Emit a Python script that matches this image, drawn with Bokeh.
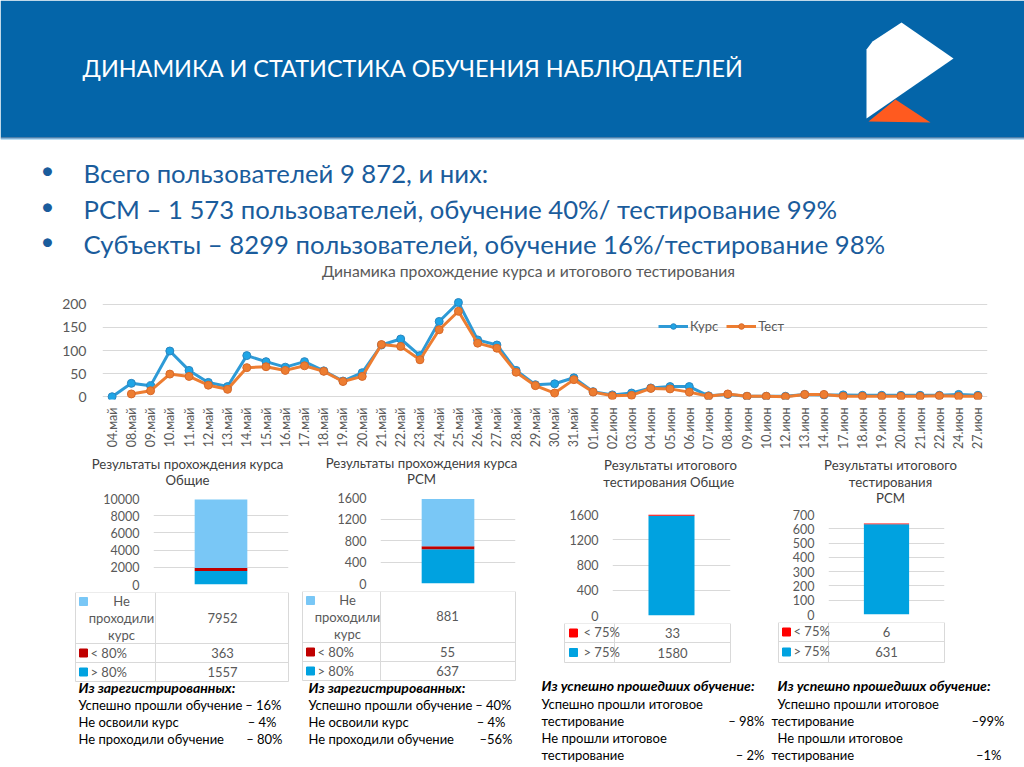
import math
from bokeh.plotting import figure
from bokeh.layouts import column, row
from bokeh.models import Range1d, FixedTicker, Legend, LegendItem, FactorRange, ColumnDataSource
from bokeh.core.properties import value
from bokeh.embed import file_html
from bokeh.resources import INLINE

FONT = "Lato"
GRAY = "#595959"
GRID = "#D9D9D9"
HEADER_BLUE = "#0465A9"
TEXT_BLUE = "#1A5C9C"
KURS_COLOR = "#2E9AD6"
TEST_COLOR = "#ED7D31"

# ---------------- data ----------------
dates = ["04.май", "08.май", "09.май", "10.май", "11.май", "12.май", "13.май", "14.май",
         "15.май", "16.май", "17.май", "18.май", "19.май", "20.май", "21.май", "22.май",
         "23.май", "24.май", "25.май", "26.май", "27.май", "28.май", "29.май", "30.май",
         "31.май", "01.июн", "02.июн", "03.июн", "04.июн", "05.июн", "06.июн", "07.июн",
         "08.июн", "09.июн", "10.июн", "12.июн", "13.июн", "14.июн", "17.июн", "18.июн",
         "19.июн", "20.июн", "21.июн", "22.июн", "24.июн", "27.июн"]
kurs = [0, 29, 24, 99, 57, 31, 22, 89, 76, 64, 76, 56, 34, 52, 112, 125, 89, 163, 204, 123,
        112, 57, 26, 28, 41, 11, 4, 8, 19, 22, 22, 2, 5, 1, 1, 1, 5, 4, 4, 3, 3, 3, 3, 3, 5, 3]
test = [float("nan"), 6, 13, 49, 44, 25, 16, 63, 65, 57, 67, 55, 33, 44, 113, 109, 80, 145, 185,
        116, 105, 53, 24, 8, 37, 10, 2, 3, 18, 17, 10, 1, 6, 1, 1, 0, 5, 5, 1, 1, 1, 1, 1, 2, 1, 1]
line_ticks = [0, 50, 100, 150, 200]

course_keys = ["gt80", "lt80", "none"]
course_labels = ["> 80%", "< 80%", "Не проходили курс"]
course_colors = ["#00A2E0", "#C00000", "#79C7F6"]
course_all = [1557, 363, 7952]
course_rsm = [637, 55, 881]
course_all_ticks = [0, 2000, 4000, 6000, 8000, 10000]
course_rsm_ticks = [0, 400, 800, 1200, 1600]

test_keys = ["gt75", "lt75"]
test_labels = ["> 75%", "< 75%"]
test_colors = ["#00A2E0", "#FF0000"]
test_all = [1580, 33]
test_rsm = [631, 6]
test_all_ticks = [0, 400, 800, 1200, 1600]
test_rsm_ticks = [0, 100, 200, 300, 400, 500, 600, 700]

header_title = "ДИНАМИКА И СТАТИСТИКА ОБУЧЕНИЯ НАБЛЮДАТЕЛЕЙ"
bullets = ["Всего пользователей 9 872, и них:",
           "РСМ – 1 573 пользователей, обучение 40%/ тестирование 99%",
           "Субъекты – 8299 пользователей, обучение 16%/тестирование 98%"]
line_title = "Динамика прохождение курса и итогового тестирования"

TS = "13.2px"   # block title size
TB = "13px"     # table text size
BT = "13px"     # bottom text size
BB = "14px"     # bottom bold heading size


# ---------------- helpers ----------------
def canvas(x0, y0, w, h):
    p = figure(width=w, height=h, x_range=Range1d(x0, x0 + w), y_range=Range1d(y0 + h, y0),
               x_axis_type=None, y_axis_type=None, output_backend="svg", toolbar_location=None,
               min_border=0, frame_align=False)
    p.grid.visible = False
    p.outline_line_color = None
    return p


def T(p, x, y, s, size="12px", color=GRAY, align="left", style="normal"):
    p.text(x=[x], y=[y], text=[s], text_font=value(FONT), text_font_size=size,
           text_color=color, text_align=align, text_baseline="middle", text_font_style=style)


def bar_fig(x0, y0, w, h, fl, fr, ft, fb, ymax, ticks, keys, vals, colors):
    p = figure(width=w, height=h, x_range=Range1d(0, 1), y_range=Range1d(0, ymax),
               x_axis_type=None, output_backend="svg", toolbar_location=None,
               min_border_left=fl - x0, min_border_right=x0 + w - fr,
               min_border_top=ft - y0, min_border_bottom=y0 + h - fb, frame_align=False)
    src = ColumnDataSource({k: [v] for k, v in zip(keys, vals)} | {"x": [0.5]})
    p.vbar_stack(keys, x="x", width=0.39, color=colors, source=src, line_width=0)
    p.yaxis.ticker = FixedTicker(ticks=ticks)
    p.ygrid.ticker = FixedTicker(ticks=ticks)
    p.ygrid.grid_line_color = GRID
    p.xgrid.visible = False
    p.yaxis.axis_line_color = None
    p.yaxis.major_tick_line_color = None
    p.yaxis.minor_tick_line_color = None
    p.yaxis.major_label_text_font = FONT
    p.yaxis.major_label_text_font_size = "12.5px"
    p.yaxis.major_label_text_color = GRAY
    p.yaxis.major_label_standoff = 8
    p.outline_line_color = None
    return p


def table_lines(p, xl, xm, xr, ys):
    for y in ys:
        p.line([xl, xr], [y, y], line_color=GRID, line_width=1)
    for x in (xl, xm, xr):
        p.line([x, x], [ys[0], ys[-1]], line_color=GRID, line_width=1)


# ---------------- top canvas ----------------
top = canvas(0, 0, 1024, 282)
top.quad(left=[0], right=[1024], top=[0], bottom=[137], fill_color=HEADER_BLUE, line_width=0)
top.line([0, 1024], [137.5, 137.5], line_color="#1B4F82", line_width=1)
top.line([0, 1024], [138.5, 138.5], line_color="#7DBBE6", line_width=1)
T(top, 82, 67, header_title, "23.4px", "white")
top.patch([866, 866, 872, 901, 953], [118, 49, 41, 22, 58], fill_color="white", line_width=0)
top.patch([868, 895, 930], [121, 99, 122], fill_color="#FF5A1F", line_width=0)
for i, b in enumerate(bullets):
    y = [172, 208, 243][i]
    T(top, 47, y - 3, "•", "24px", TEXT_BLUE, "center")
    T(top, 83, y, b, "25.7px", TEXT_BLUE)
T(top, 528, 270, line_title, "15.7px", GRAY, "center")

# ---------------- line chart ----------------
lp = figure(width=1024, height=174, x_range=FactorRange(*dates), y_range=Range1d(-6, 230),
            min_border_left=102, min_border_right=37, min_border_top=8, min_border_bottom=57,
            output_backend="svg", toolbar_location=None, frame_align=False)
l1 = lp.line(dates, kurs, line_color=KURS_COLOR, line_width=3)
s1 = lp.scatter(dates, kurs, size=8, fill_color="#1FA5E6", line_color="#2A86C0", line_width=1)
l2 = lp.line(dates, test, line_color=TEST_COLOR, line_width=3)
s2 = lp.scatter(dates, test, size=8, fill_color=TEST_COLOR, line_color="#D8692A", line_width=1)
lp.yaxis.ticker = FixedTicker(ticks=line_ticks)
lp.ygrid.ticker = FixedTicker(ticks=line_ticks)
lp.ygrid.grid_line_color = GRID
lp.xgrid.visible = False
lp.outline_line_color = None
for ax in (lp.xaxis, lp.yaxis):
    ax.axis_line_color = None
    ax.major_tick_line_color = None
    ax.minor_tick_line_color = None
    ax.major_label_text_font = FONT
    ax.major_label_text_color = GRAY
lp.yaxis.major_label_text_font_size = "14px"
lp.yaxis.major_label_standoff = 10
lp.xaxis.major_label_text_font_size = "12.5px"
lp.xaxis.major_label_orientation = math.pi / 2
lp.xaxis.major_label_standoff = 2
legend = Legend(items=[LegendItem(label="Курс", renderers=[l1, s1]),
                       LegendItem(label="Тест", renderers=[l2, s2])],
                orientation="horizontal", location=(556, 65), border_line_color=None,
                background_fill_alpha=0, label_text_font=FONT, label_text_font_size="13px",
                label_text_color=GRAY, glyph_width=30, glyph_height=14, label_height=14,
                padding=0, margin=0, spacing=8, label_standoff=2)
lp.add_layout(legend)

# ---------------- block 1 ----------------
t1 = canvas(0, 456, 296, 32)
T(t1, 187, 463, "Результаты прохождения курса", TS, "#404040", "center")
T(t1, 187, 479, "Общие", TS, "#404040", "center")
b1 = bar_fig(0, 488, 296, 104, 153, 288, 498, 584, 10000, course_all_ticks,
             course_keys, course_all, course_colors)
g1 = canvas(0, 592, 296, 175)
table_lines(g1, 75, 155, 288, [592, 643, 662, 681])
g1.scatter([83], [601], marker="square", size=8, color=course_colors[2])
T(g1, 121, 600, "Не", TB, GRAY, "center")
T(g1, 121, 617, "проходили", TB, GRAY, "center")
T(g1, 121, 634, "курс", TB, GRAY, "center")
T(g1, 222, 617, str(course_all[2]), TB, GRAY, "center")
g1.scatter([83], [652.5], marker="square", size=8, color=course_colors[1])
T(g1, 90, 652.5, course_labels[1], TB, GRAY)
T(g1, 222, 652.5, str(course_all[1]), TB, GRAY, "center")
g1.scatter([83], [671.5], marker="square", size=8, color=course_colors[0])
T(g1, 90, 671.5, course_labels[0], TB, GRAY)
T(g1, 222, 671.5, str(course_all[0]), TB, GRAY, "center")
T(g1, 78, 687, "Из зарегистрированных:", BB, "black", style="bold italic")
T(g1, 78, 704, "Успешно прошли обучение", BT, "black")
T(g1, 281, 704, "– 16%", BT, "black", "right")
T(g1, 78, 721, "Не освоили курс", BT, "black")
T(g1, 276, 721, "– 4%", BT, "black", "right")
T(g1, 78, 738, "Не проходили обучение", BT, "black")
T(g1, 282, 738, "– 80%", BT, "black", "right")
col1 = column(t1, b1, g1, spacing=0)

# ---------------- block 2 ----------------
t2 = canvas(296, 456, 236, 31)
T(t2, 421, 462, "Результаты прохождения курса", TS, "#404040", "center")
T(t2, 421, 478, "РСМ", TS, "#404040", "center")
b2 = bar_fig(296, 487, 236, 104, 380, 515, 497, 583, 1600, course_rsm_ticks,
             course_keys, course_rsm, course_colors)
g2 = canvas(296, 591, 236, 176)
table_lines(g2, 302, 380, 515, [591, 642, 661, 680])
g2.scatter([310], [600], marker="square", size=8, color=course_colors[2])
T(g2, 347, 599, "Не", TB, GRAY, "center")
T(g2, 347, 616, "проходили", TB, GRAY, "center")
T(g2, 347, 633, "курс", TB, GRAY, "center")
T(g2, 447, 615, str(course_rsm[2]), TB, GRAY, "center")
g2.scatter([310], [651.5], marker="square", size=8, color=course_colors[1])
T(g2, 317, 651.5, course_labels[1], TB, GRAY)
T(g2, 447, 651.5, str(course_rsm[1]), TB, GRAY, "center")
g2.scatter([310], [670.5], marker="square", size=8, color=course_colors[0])
T(g2, 317, 670.5, course_labels[0], TB, GRAY)
T(g2, 447, 670.5, str(course_rsm[0]), TB, GRAY, "center")
T(g2, 308, 687, "Из зарегистрированных:", BB, "black", style="bold italic")
T(g2, 308, 704, "Успешно прошли обучение", BT, "black")
T(g2, 511, 704, "– 40%", BT, "black", "right")
T(g2, 308, 721, "Не освоили курс", BT, "black")
T(g2, 505, 721, "– 4%", BT, "black", "right")
T(g2, 308, 738, "Не проходили обучение", BT, "black")
T(g2, 512, 738, "–56%", BT, "black", "right")
col2 = column(t2, b2, g2, spacing=0)

# ---------------- block 3 ----------------
t3 = canvas(532, 456, 236, 48)
T(t3, 670, 464, "Результаты итогового", TS, "#404040", "center")
T(t3, 670, 481, "тестирования  Общие", TS, "#404040", "center")
b3 = bar_fig(532, 504, 236, 119, 612, 730, 514, 615, 1600, test_all_ticks,
             test_keys, test_all, test_colors)
g3 = canvas(532, 623, 236, 144)
table_lines(g3, 564, 614, 730, [623, 642, 662])
g3.scatter([573], [632.5], marker="square", size=8, color=test_colors[1])
T(g3, 583, 631.5, test_labels[1], TB, GRAY)
T(g3, 672, 632.5, str(test_all[1]), TB, GRAY, "center")
g3.scatter([573], [652], marker="square", size=8, color=test_colors[0])
T(g3, 583, 651, test_labels[0], TB, GRAY)
T(g3, 672, 652, str(test_all[0]), TB, GRAY, "center")
T(g3, 541, 685, "Из успешно прошедших обучение:", BB, "black", style="bold italic")
T(g3, 541, 703, "Успешно прошли итоговое", BT, "black")
T(g3, 541, 720, "тестирование", BT, "black")
T(g3, 764, 720, "– 98%", BT, "black", "right")
T(g3, 541, 737, "Не прошли итоговое", BT, "black")
T(g3, 541, 754, "тестирование", BT, "black")
T(g3, 764, 754, "– 2%", BT, "black", "right")
col3 = column(t3, b3, g3, spacing=0)

# ---------------- block 4 ----------------
t4 = canvas(768, 456, 256, 48)
T(t4, 890, 464, "Результаты итогового", TS, "#404040", "center")
T(t4, 890, 481, "тестирования", TS, "#404040", "center")
T(t4, 890, 497, "РСМ", TS, "#404040", "center")
b4 = bar_fig(768, 504, 256, 118, 828, 944, 514, 614, 700, test_rsm_ticks,
             test_keys, test_rsm, test_colors)
g4 = canvas(768, 622, 256, 145)
table_lines(g4, 778, 828, 944, [622, 641, 662])
g4.scatter([786], [631.5], marker="square", size=8, color=test_colors[1])
T(g4, 793, 630.5, test_labels[1], TB, GRAY)
T(g4, 886, 631.5, str(test_rsm[1]), TB, GRAY, "center")
g4.scatter([786], [651.5], marker="square", size=8, color=test_colors[0])
T(g4, 793, 650.5, test_labels[0], TB, GRAY)
T(g4, 886, 651.5, str(test_rsm[0]), TB, GRAY, "center")
T(g4, 777, 685, "Из успешно прошедших обучение:", BB, "black", style="bold italic")
T(g4, 777, 703, "Успешно прошли итоговое", BT, "black")
T(g4, 771, 720, "тестирование", BT, "black")
T(g4, 1004, 720, "–99%", BT, "black", "right")
T(g4, 777, 737, "Не прошли итоговое", BT, "black")
T(g4, 771, 754, "тестирование", BT, "black")
T(g4, 1001, 754, "–1%", BT, "black", "right")
col4 = column(t4, b4, g4, spacing=0)

page = column(top, lp, row(col1, col2, col3, col4, spacing=0), spacing=0)

open("out.html", "w").write(file_html(page, INLINE))
